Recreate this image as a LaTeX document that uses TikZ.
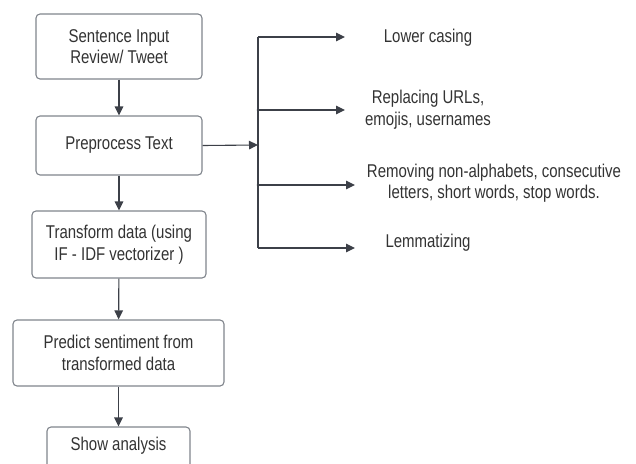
\documentclass[tikz,border=0pt]{standalone}
\usepackage{fontspec}
\setmainfont{Liberation Sans}[FakeStretch=0.81]
\usetikzlibrary{arrows.meta}
\definecolor{linec}{HTML}{3C4048}
\definecolor{boxc}{HTML}{80858C}
\definecolor{txtc}{HTML}{333333}
\tikzset{
  flowbox/.style={draw=boxc, line width=1.1pt, rounded corners=4pt, fill=white, align=center, text=txtc, inner sep=0pt,
    font=\fontsize{18.5}{21.5}\selectfont},
  lbl/.style={align=center, text=txtc, inner sep=0pt, font=\fontsize{18.5}{21.5}\selectfont},
  conn/.style={draw=linec, line width=1.1pt, -{Triangle[length=9pt,width=8.5pt]}},
  plain/.style={draw=linec, line width=1.1pt},
}
\begin{document}
\begin{tikzpicture}[x=1pt,y=-1pt]
\useasboundingbox (0,0) rectangle (636,463);
\clip (0,0) rectangle (636,463);
\node[flowbox, minimum width=166pt, minimum height=65pt] (b1) at (119,46.5) {Sentence Input\\Review/ Tweet};
\node[flowbox, minimum width=166pt, minimum height=59pt] (b2) at (119,145.5) {Preprocess Text};
\node[flowbox, minimum width=174pt, minimum height=67pt] (b3) at (119,244.5) {Transform data (using\\IF - IDF vectorizer )};
\node[flowbox, minimum width=211pt, minimum height=66pt] (b4) at (118.5,353) {Predict sentiment from\\transformed data};
\node[flowbox, minimum width=143pt, minimum height=48pt] (b5) at (118.5,451) {};
\node[lbl] (b5t) at (118.5,446) {Show analysis};
\draw[conn] (b1) -- (b2);
\draw[conn] (b2) -- (b3);
\draw[conn] (b3) -- (b4);
\draw[conn] (b4) -- (b5);
\coordinate (j) at (258,145);
\coordinate (jt) at (258,37);
\coordinate (j2) at (258,110);
\coordinate (j3) at (258,185);
\coordinate (jb) at (258,248);
\draw[conn] (b2.east) -- (j);
\draw[plain] (jt) -- (jb);
\fill[linec] (j2) circle (1.3pt);
\fill[linec] (j3) circle (1.3pt);
\node[lbl] (t1) at (428,38) {Lower casing};
\node[lbl] (t2) at (428,109.5) {Replacing URLs,\\emojis, usernames};
\node[lbl] (t3) at (494,183) {Removing non-alphabets, consecutive\\letters, short words, stop words.};
\node[lbl] (t4) at (428,243) {Lemmatizing};
\coordinate (e1) at (345,37);
\coordinate (e2) at (345,110);
\coordinate (e3) at (355,185);
\coordinate (e4) at (355,248);
\draw[conn] (jt) -- (e1);
\draw[conn] (j2) -- (e2);
\draw[conn] (j3) -- (e3);
\draw[conn] (jb) -- (e4);
\end{tikzpicture}
\end{document}
